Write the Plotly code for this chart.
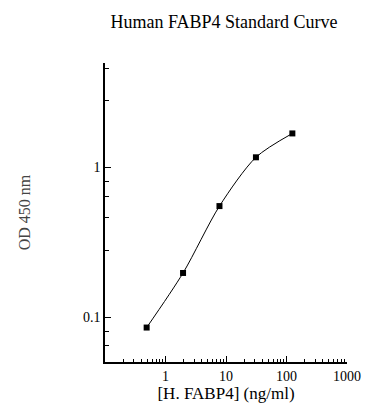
import plotly.graph_objects as go
import numpy as np

conc = [0.488, 1.95, 7.8, 31.25, 125]
od = [0.085, 0.197, 0.552, 1.17, 1.69]

x_ticks = [1, 10, 100, 1000]
x_ticklabels = ["1", "10", "100", "1000"]
y_ticks = [0.1, 1]
y_ticklabels = ["0.1", "1"]
y_minor = [0.064, 0.08, 0.28, 0.46, 0.64, 0.8, 2.8, 4.6]
x_minor = [m * d for d in [0.1, 1, 10, 100] for m in range(2, 10)]

font = "Liberation Serif, Times New Roman, serif"

W, H = 380, 412  # page adds an 8px body margin

fig = go.Figure()
fig.add_trace(go.Scatter(
    x=conc, y=od, mode="lines+markers",
    line=dict(color="black", width=1, shape="spline", smoothing=0.8),
    marker=dict(symbol="square", size=6, color="black"),
    showlegend=False,
))

fig.update_layout(
    width=W, height=H,
    margin=dict(l=97, r=41, t=55, b=58),
    paper_bgcolor="white", plot_bgcolor="white",
    font=dict(family=font, color="black", size=14),
    title=dict(text="Human FABP4 Standard Curve", x=(224 - 8) / W, xanchor="center",
               y=1 - (22 - 8) / H, yanchor="middle", font=dict(size=18, family=font)),
)
fig.update_xaxes(
    type="log", range=[-1, 3], showgrid=False, zeroline=False,
    showline=True, linecolor="black", linewidth=1.5,
    tickmode="array", tickvals=x_ticks, ticktext=x_ticklabels,
    ticks="inside", ticklen=6, tickcolor="black", tickwidth=1,
    minor=dict(tickmode="array", tickvals=x_minor, ticks="inside", ticklen=3, tickcolor="black", showgrid=False),
    title=dict(text="[H. FABP4] (ng/ml)", font=dict(size=17, family=font), standoff=4),
    tickfont=dict(size=14, color="black"),
)
fig.update_yaxes(
    type="log", range=[np.log10(0.05), np.log10(5)], showgrid=False, zeroline=False,
    showline=True, linecolor="black", linewidth=1.5,
    tickmode="array", tickvals=y_ticks, ticktext=y_ticklabels,
    ticks="inside", ticklen=6, tickcolor="black", tickwidth=1,
    minor=dict(tickmode="array", tickvals=y_minor, ticks="inside", ticklen=4, tickcolor="black", showgrid=False),
    title=dict(text="OD 450 nm", font=dict(size=16, family=font, color="#444"), standoff=48),
    tickfont=dict(size=14, color="black"),
)

fig.write_html("out.html")
